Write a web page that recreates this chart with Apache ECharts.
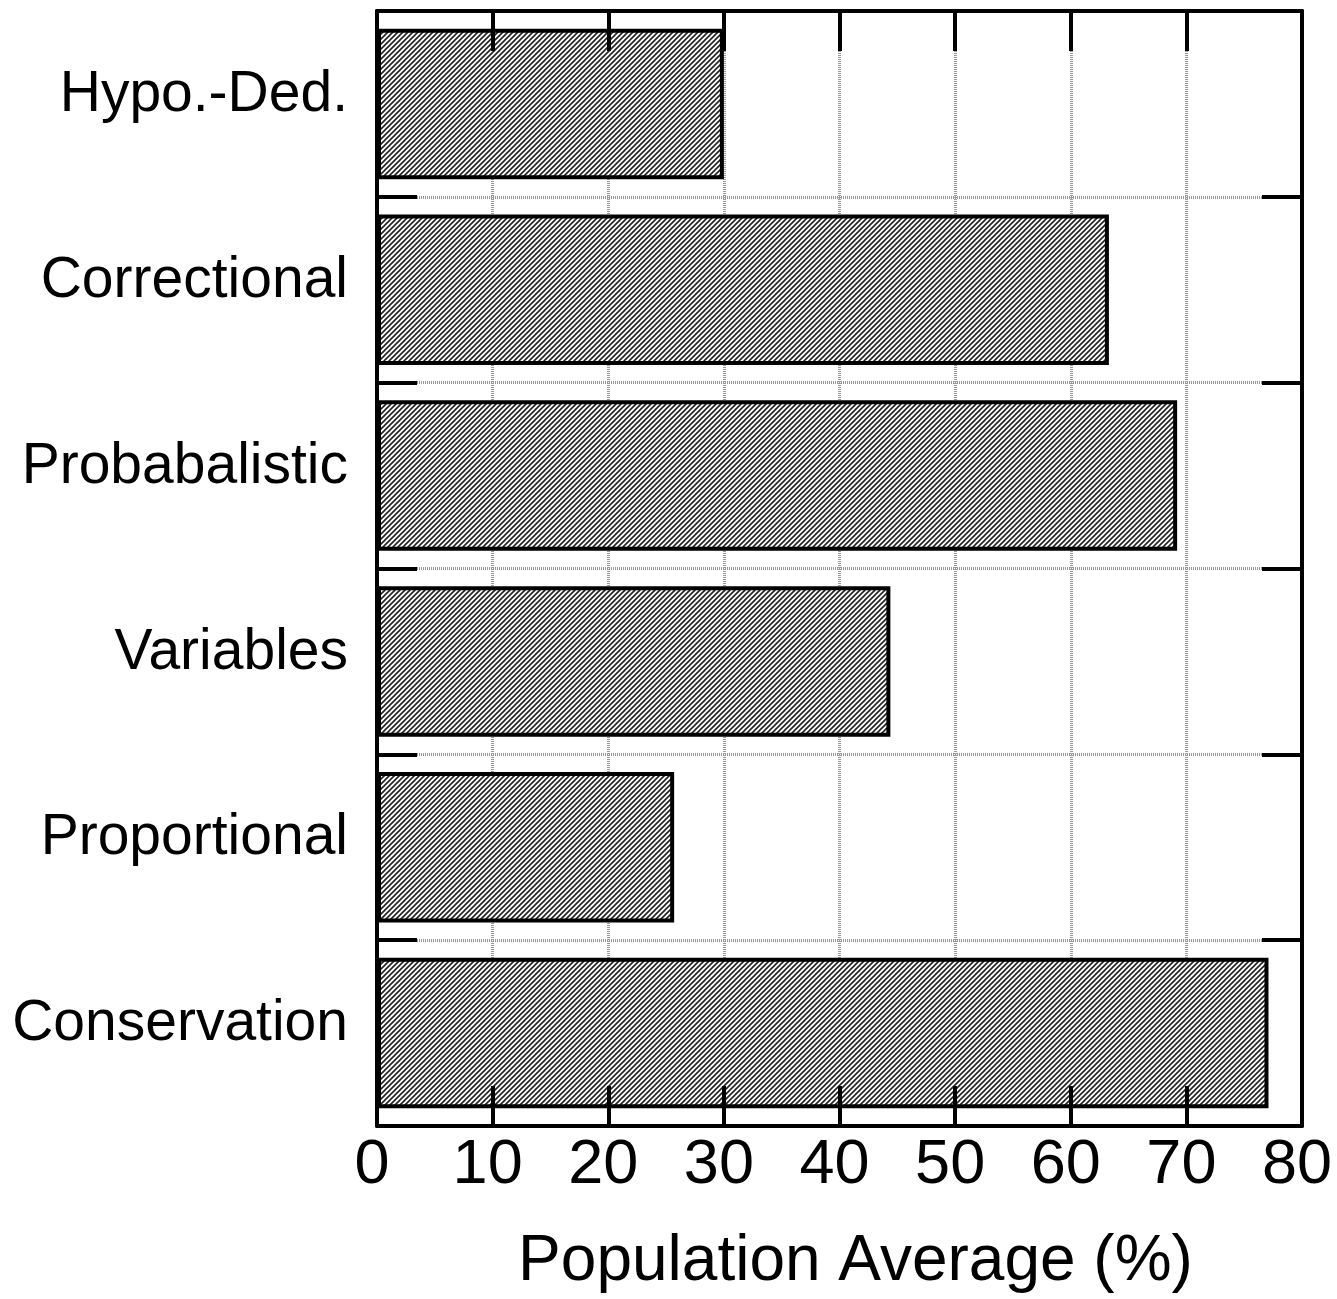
<!DOCTYPE html>
<html>
<head>
<meta charset="utf-8">
<script src="https://cdn.jsdelivr.net/npm/echarts@6/dist/echarts.min.js"></script>
<style>
html,body{margin:0;padding:0;background:#fff;}
#chart{width:1337px;height:1299px;}
</style>
</head>
<body>
<div id="chart"></div>
<script>
const categories = ['Hypo.-Ded.', 'Correctional', 'Probabalistic', 'Variables', 'Proportional', 'Conservation'];
const values = [30, 63.3, 69.2, 44.4, 25.7, 77.1];
const xTicks = [0, 10, 20, 30, 40, 50, 60, 70, 80];
const xName = 'Population Average (%)';

// hatch pattern
const tile = document.createElement('canvas');
tile.width = 5; tile.height = 5;
const c = tile.getContext('2d');
c.fillStyle = '#fff';
c.fillRect(0, 0, 5, 5);
c.strokeStyle = '#222';
c.lineWidth = 1.6;
for (const o of [-5, 0, 5]) {
  c.beginPath();
  c.moveTo(o - 1, 6);
  c.lineTo(o + 6, -1);
  c.stroke();
}

const FONT = '"Liberation Sans", Arial, Helvetica, sans-serif';
const gridLine = { show: true, lineStyle: { color: '#999', width: 3, type: [1, 1] } };
const blackLine = { show: true, onZero: false, lineStyle: { color: '#000', width: 4 } };
const inTick = { show: true, inside: true, length: 40, lineStyle: { color: '#000', width: 4 } };

const chart = echarts.init(document.getElementById('chart'));
chart.setOption({
  animation: false,
  backgroundColor: '#fff',
  grid: { left: 377, right: 35, top: 11, bottom: 171, containLabel: false },
  xAxis: [
    {
      type: 'value', position: 'bottom', min: xTicks[0], max: xTicks[xTicks.length - 1], interval: 10,
      z: 10,
      axisLine: blackLine,
      axisTick: inTick,
      axisLabel: { show: true, color: '#000', fontSize: 63, fontFamily: FONT, margin: 8, padding: [0, 10, 0, 0] },
      splitLine: { show: false },
      name: xName, nameLocation: 'middle', nameGap: 104,
      nameTextStyle: { color: '#000', fontSize: 64, fontFamily: FONT, padding: [0, 0, 0, 32] }
    },
    {
      type: 'value', position: 'top', min: xTicks[0], max: xTicks[xTicks.length - 1], interval: 10,
      z: 10,
      axisLine: blackLine,
      axisTick: inTick,
      axisLabel: { show: false },
      splitLine: { show: false }
    },
    {
      type: 'value', position: 'bottom', min: xTicks[0], max: xTicks[xTicks.length - 1], interval: 10,
      z: 0,
      axisLine: { show: false }, axisTick: { show: false }, axisLabel: { show: false },
      splitLine: gridLine
    }
  ],
  yAxis: [
    {
      type: 'category', data: categories, inverse: true, position: 'left',
      z: 10,
      axisLine: blackLine,
      axisTick: inTick,
      axisLabel: { show: true, color: '#000', fontSize: 57, fontFamily: FONT, margin: 29, verticalAlign: 'bottom', lineHeight: 17 },
      splitLine: { show: false }
    },
    {
      type: 'category', data: categories, inverse: true, position: 'right',
      z: 9,
      axisLine: blackLine,
      axisTick: inTick,
      axisLabel: { show: false },
      splitLine: gridLine
    }
  ],
  series: [{
    type: 'bar',
    xAxisIndex: 0, yAxisIndex: 0,
    data: values,
    barCategoryGap: '19%',
    z: 2,
    itemStyle: {
      color: { image: tile, repeat: 'repeat' },
      borderColor: '#000',
      borderWidth: 4
    },
    emphasis: { disabled: true }
  }]
});
</script>
</body>
</html>
